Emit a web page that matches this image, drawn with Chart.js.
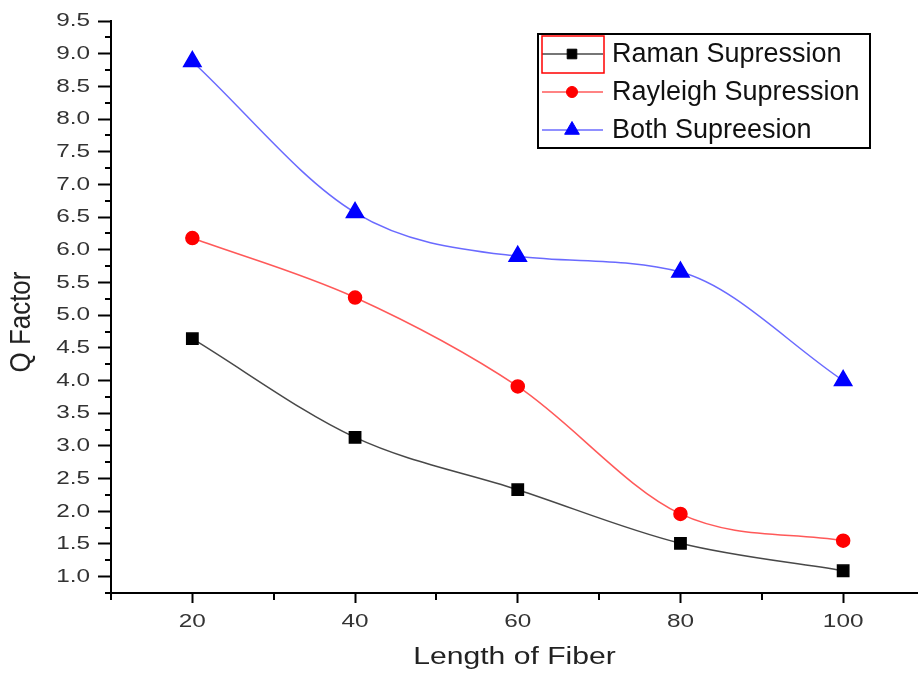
<!DOCTYPE html>
<html><head><meta charset="utf-8">
<script src="https://cdn.jsdelivr.net/npm/chart.js@4.4.1/dist/chart.umd.min.js"></script>
<style>html,body{margin:0;padding:0;background:#fff;overflow:hidden}#wrap{width:918px;height:675px;position:relative}canvas{display:block}</style>
</head><body>
<div id="wrap"><canvas id="c" width="918" height="675" style="width:918px;height:675px"></canvas></div>
<script>
// ---- data ----
const lengths = [20, 40, 60, 80, 100];
const ramanQ = [4.64, 3.13, 2.33, 1.51, 1.09];
const rayleighQ = [6.18, 5.27, 3.91, 1.96, 1.55];
const bothQ = [8.88, 6.57, 5.90, 5.66, 4.00];
const seriesNames = ['Raman Supression', 'Rayleigh Supression', 'Both Supreesion'];
const xTickLabels = ['20', '40', '60', '80', '100'];
const yTickLabels = ['1.0','1.5','2.0','2.5','3.0','3.5','4.0','4.5','5.0','5.5','6.0','6.5','7.0','7.5','8.0','8.5','9.0','9.5'];
const xTitle = 'Length of Fiber';
const yTitle = 'Q Factor';

const FONT = "'Liberation Sans', Arial, sans-serif";
const SX = 1.28; // horizontal stretch of the reference's text
const toXY = (ys) => ys.map((v, i) => ({x: lengths[i], y: v}));

function isMajorY(v){ return Math.abs(v*2 - Math.round(v*2)) < 1e-6 && v >= 1; }
function isMajorX(v){ return lengths.includes(Math.round(v)) && Math.abs(v-Math.round(v))<1e-6; }

const canvas = document.getElementById('c');
const cctx = canvas.getContext('2d');
const plainFillText = cctx.fillText.bind(cctx);
cctx.fillText = function(t, x, y, mw){
  this.save();
  this.translate(x, y);
  this.scale(SX, 1);
  if (mw !== undefined) plainFillText(t, 0, 0, mw / SX); else plainFillText(t, 0, 0);
  this.restore();
};

const extrasPlugin = {
  id: 'extras',
  afterDraw(chart){
    const ctx = chart.ctx;
    const xs = chart.scales.x, ys = chart.scales.y;
    ctx.save();
    ctx.strokeStyle = '#000';
    ctx.lineWidth = 2;
    // minor ticks
    ys.ticks.forEach(t => {
      if (!isMajorY(t.value)) {
        const py = Math.round(ys.getPixelForValue(t.value));
        ctx.beginPath(); ctx.moveTo(ys.right - 6, py); ctx.lineTo(ys.right, py); ctx.stroke();
      }
    });
    xs.ticks.forEach(t => {
      if (!isMajorX(t.value)) {
        const px = Math.round(xs.getPixelForValue(t.value));
        ctx.beginPath(); ctx.moveTo(px, xs.top); ctx.lineTo(px, xs.top + 7); ctx.stroke();
      }
    });
    // y title
    ctx.save();
    ctx.translate(22, 322);
    ctx.rotate(-Math.PI/2);
    ctx.scale(1.08, 1.22);
    ctx.font = '24px ' + FONT;
    ctx.fillStyle = '#222';
    ctx.textAlign = 'center';
    ctx.textBaseline = 'middle';
    plainFillText(yTitle, 0, 0);
    ctx.restore();
    // legend
    const bx = 538, by = 34, bw = 332, bh = 114;
    ctx.lineWidth = 2;
    ctx.strokeStyle = '#000';
    ctx.strokeRect(bx, by, bw, bh);
    const rows = [54, 92, 130];
    chart.data.datasets.forEach((ds, i) => {
      const y = rows[i];
      ctx.strokeStyle = ds.borderColor;
      ctx.lineWidth = 1.5;
      ctx.beginPath(); ctx.moveTo(542, y); ctx.lineTo(603, y); ctx.stroke();
      ctx.fillStyle = ds.pointBackgroundColor;
      ctx.strokeStyle = ds.pointBorderColor;
      ctx.lineWidth = 1;
      Chart.helpers.drawPoint(ctx, {pointStyle: ds.pointStyle, radius: ds.pointRadius * 0.85, borderWidth: 1}, 572, y);
      ctx.fillStyle = '#111';
      ctx.font = '27px ' + FONT;
      ctx.textAlign = 'left';
      ctx.textBaseline = 'middle';
      plainFillText(ds.label, 612, y + 1);
    });
    ctx.strokeStyle = '#ff0000';
    ctx.lineWidth = 1.5;
    ctx.strokeRect(542, 36, 62, 37);
    ctx.restore();
  }
};

new Chart(canvas, {
  type: 'line',
  data: {
    datasets: [
      {label: seriesNames[0], data: toXY(ramanQ), borderColor: 'rgba(40,40,40,0.85)', backgroundColor: '#000', pointBackgroundColor: '#000', pointBorderColor: '#000', pointStyle: 'rect', pointRadius: 8, borderWidth: 1.5},
      {label: seriesNames[1], data: toXY(rayleighQ), borderColor: 'rgba(255,60,60,0.85)', backgroundColor: '#ff0000', pointBackgroundColor: '#ff0000', pointBorderColor: '#ff0000', pointStyle: 'circle', pointRadius: 6.5, borderWidth: 1.5},
      {label: seriesNames[2], data: toXY(bothQ), borderColor: 'rgba(80,80,255,0.85)', backgroundColor: '#0000ff', pointBackgroundColor: '#0000ff', pointBorderColor: '#0000ff', pointStyle: 'triangle', pointRadius: 10, borderWidth: 1.5}
    ]
  },
  options: {
    responsive: false,
    animation: false,
    devicePixelRatio: 1,
    layout: {autoPadding: false, padding: {top: 21, left: 0, right: 0, bottom: 0}},
    elements: {line: {cubicInterpolationMode: 'monotone', fill: false}},
    plugins: {legend: {display: false}, tooltip: {enabled: false}},
    scales: {
      x: {
        type: 'linear', min: 10, max: 109.2,
        afterFit(s){ s.height = 82; s.paddingLeft = 0; s.paddingRight = 0; },
        ticks: {
          stepSize: 10, includeBounds: false, autoSkip: false, maxRotation: 0, padding: 7,
          color: '#333', font: {family: FONT, size: 19},
          callback: (v) => { const i = lengths.indexOf(v); return i >= 0 ? xTickLabels[i] : ''; }
        },
        grid: {drawOnChartArea: false, drawTicks: true, tickLength: 10, tickWidth: 2,
          tickColor: (c) => (c.tick && isMajorX(c.tick.value)) ? '#000' : 'rgba(0,0,0,0)'},
        border: {display: true, color: '#000', width: 2},
        title: {display: true, text: xTitle, color: '#222', font: {family: FONT, size: 23.5}, padding: {top: 0, bottom: 3}}
      },
      y: {
        type: 'linear', min: 0.75, max: 9.5,
        afterFit(s){ s.width = 111; s.paddingTop = 0; s.paddingBottom = 0; },
        ticks: {
          stepSize: 0.25, autoSkip: false, padding: 8,
          color: '#333', font: {family: FONT, size: 19},
          callback: (v) => { if (!isMajorY(v)) return ''; const i = Math.round((v - 1) * 2); return yTickLabels[i] ?? ''; }
        },
        grid: {drawOnChartArea: false, drawTicks: true, tickLength: 13, tickWidth: 2,
          tickColor: (c) => (c.tick && isMajorY(c.tick.value)) ? '#000' : 'rgba(0,0,0,0)'},
        border: {display: true, color: '#000', width: 2}
      }
    }
  },
  plugins: [extrasPlugin]
});
</script>
</body></html>
